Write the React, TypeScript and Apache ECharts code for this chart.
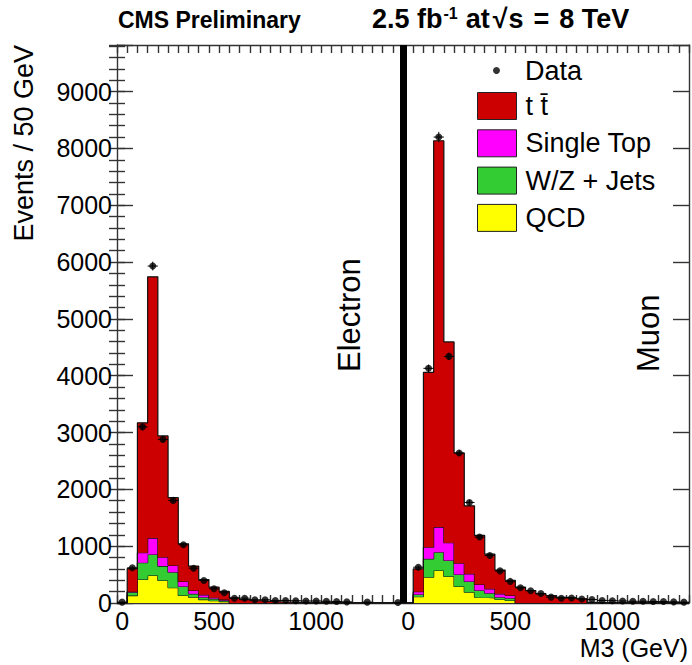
import React, { useEffect, useRef } from 'react';
import * as echarts from 'echarts';

const FONT = '"Liberation Sans", Arial, Helvetica, sans-serif';

// M3 distribution, 28 bins of 50 GeV per channel (0–1400 GeV); muon bins follow electron bins.
const electronQCD = [0, 130, 414, 485, 397, 268, 132, 103, 60, 40, 25, 0, 0, 0, 0, 0, 0, 0, 0, 0, 0, 0, 0, 0, 0, 0, 0, 0];
const electronWZJets = [0, 60, 294, 369, 252, 275, 158, 59, 43, 33, 20, 0, 0, 0, 0, 0, 0, 0, 0, 0, 0, 0, 0, 0, 0, 0, 0, 0];
const electronSingleTop = [0, 10, 176, 288, 158, 117, 89, 58, 41, 19, 15, 0, 0, 0, 0, 0, 0, 0, 0, 0, 0, 0, 0, 0, 0, 0, 0, 0];
const electronTTbar = [0, 405, 2286, 4598, 2133, 1193, 664, 429, 270, 187, 143, 90, 60, 40, 30, 20, 15, 10, 8, 6, 5, 4, 3, 2, 2, 1, 1, 1];
const electronData = [15, 620, 3100, 5930, 2880, 1806, 1025, 613, 396, 250, 180, 85, 85, 56, 56, 45, 45, 40, 35, 35, 30, 25, 20, null, 15, null, null, 10];

const muonQCD = [0, 110, 455, 573, 467, 291, 191, 103, 91, 62, 44, 0, 0, 0, 0, 0, 0, 0, 0, 0, 0, 0, 0, 0, 0, 0, 0, 0];
const muonWZJets = [0, 40, 323, 322, 282, 211, 188, 117, 82, 41, 41, 0, 0, 0, 0, 0, 0, 0, 0, 0, 0, 0, 0, 0, 0, 0, 0, 0];
const muonSingleTop = [0, 50, 205, 441, 311, 199, 135, 106, 77, 59, 47, 0, 0, 0, 0, 0, 0, 0, 0, 0, 0, 0, 0, 0, 0, 0, 0, 0];
const muonTTbar = [0, 400, 3077, 6799, 3535, 1939, 1196, 864, 610, 418, 268, 279, 220, 162, 130, 100, 90, 75, 10, 8, 6, 5, 4, 3, 2, 2, 1, 1];
const muonData = [null, 630, 4130, 8200, 4340, 2640, 1770, 1160, 837, 565, 380, 268, 215, 168, 103, 85, 88, 70, 60, 45, 40, 35, 30, 30, 25, 25, 20, 15];

// x tick labels (GeV) and the bin coordinate at which each one sits
const xTickLabels = ['0', '500', '1000', '0', '500', '1000'];
const xTickLabelBins = [0.5, 9.5, 19.5, 28.5, 38.5, 48.5];

const yMax = 9820;

const sampleNames = ['QCD', 'W/Z + Jets', 'Single Top', 't t\u0304'];
const sampleColors = ['#ffff00', '#33cc33', '#ff00ff', '#cc0000'];

const stackValues = [
  [...electronQCD, ...muonQCD],
  [...electronWZJets, ...muonWZJets],
  [...electronSingleTop, ...muonSingleTop],
  [...electronTTbar, ...muonTTbar],
];
const dataValues = [...electronData, ...muonData];
const nBins = dataValues.length;
const channelSplit = electronData.length;

// bin edges 0..nBins, used as the ordinal axis of the stacked histograms
const binEdges = Array.from({ length: nBins + 1 }, (_, k) => String(k));
// step outline: value at each bin's low edge, repeated at the last high edge
const toStep = (v: number[]) => [...v, v[v.length - 1]];

const dataPoints = dataValues
  .map((v, k) => (v == null ? null : [k + 0.5, v]))
  .filter((p) => p !== null) as number[][];

const frame = { color: '#333', width: 1.4 };

export default function App() {
  const ref = useRef<HTMLDivElement>(null);

  useEffect(() => {
    const chart = echarts.init(ref.current!, null, { renderer: 'svg' });

    const baseX = { type: 'value', min: 0, max: nBins, splitLine: { show: false } };
    const baseY = { type: 'value', min: 0, max: yMax, splitLine: { show: false } };
    const titleText = { fontFamily: FONT, fontSize: 27, fontWeight: 'bold', color: '#000' };

    const option: any = {
      animation: false,
      backgroundColor: '#fff',
      textStyle: { fontFamily: FONT },
      title: [
        {
          text: 'CMS Preliminary',
          left: 118,
          top: 8,
          padding: 0,
          textStyle: { fontFamily: FONT, fontSize: 23, fontWeight: 'bold', color: '#000' },
        },
        {
          text: '{t|2.5 fb}{sup|-1}{t|at}{rt|\u221A}{t|s}{eq|=}{t|8 TeV}',
          left: 372,
          top: 5,
          padding: 0,
          textStyle: {
            ...titleText,
            rich: {
              t: { ...titleText },
              sup: { ...titleText, fontSize: 16, verticalAlign: 'top', padding: [0, 8, 0, 1] },
              rt: { ...titleText, padding: [0, 1, 0, 3] },
              eq: { ...titleText, padding: [0, 10, 0, 10] },
            },
          },
        },
      ],
      grid: { left: 117, right: 1, top: 45, bottom: 62, containLabel: false },
      legend: [
        {
          data: [{ name: 'Data', icon: 'circle' }],
          left: 493,
          top: 57,
          padding: 0,
          itemWidth: 39,
          itemHeight: 7,
          selectedMode: false,
          itemStyle: { color: '#000' },
          textStyle: { fontFamily: FONT, fontSize: 27, color: '#000', padding: [0, 0, 0, 4] },
        },
        {
          data: [3, 2, 1, 0].map((i) => ({
            name: sampleNames[i],
            icon: 'rect',
            itemStyle: { color: sampleColors[i], borderColor: '#222', borderWidth: 1 },
          })),
          orient: 'vertical',
          left: 477,
          top: 92,
          padding: 0,
          itemWidth: 39,
          itemHeight: 27,
          itemGap: 9.3,
          selectedMode: false,
          textStyle: { fontFamily: FONT, fontSize: 27, color: '#000', padding: [0, 0, 0, 4] },
        },
      ],
      xAxis: [
        {
          ...baseX,
          interval: 1,
          position: 'bottom',
          axisLine: { show: true, onZero: false, lineStyle: frame },
          axisTick: { show: true, inside: true, length: 8, lineStyle: frame },
          axisLabel: { show: false },
        },
        {
          ...baseX,
          interval: 0.5,
          position: 'bottom',
          axisLine: { show: false },
          axisTick: { show: false },
          axisLabel: {
            show: true,
            margin: 5,
            fontFamily: FONT,
            fontSize: 25,
            color: '#000',
            formatter: (v: number) => {
              const i = xTickLabelBins.findIndex((b) => Math.abs(b - v) < 1e-6);
              return i >= 0 ? xTickLabels[i] : '';
            },
          },
        },
        {
          ...baseX,
          interval: 1,
          position: 'top',
          axisLine: { show: true, onZero: false, lineStyle: frame },
          axisTick: { show: true, inside: true, length: 8, lineStyle: frame },
          axisLabel: { show: false },
        },
        {
          type: 'category',
          data: binEdges,
          boundaryGap: false,
          position: 'bottom',
          show: false,
        },
      ],
      yAxis: [
        {
          ...baseY,
          interval: 1000,
          position: 'left',
          axisLine: { show: true, onZero: false, lineStyle: frame },
          axisTick: { show: true, inside: true, length: 16, lineStyle: frame },
          axisLabel: {
            show: true,
            margin: 5,
            fontFamily: FONT,
            fontSize: 25,
            color: '#000',
            formatter: (v: number) => (v % 1000 === 0 ? String(v) : ''),
          },
        },
        {
          ...baseY,
          interval: 200,
          position: 'left',
          axisLine: { show: false },
          axisTick: { show: true, inside: true, length: 8, lineStyle: frame },
          axisLabel: { show: false },
        },
        {
          ...baseY,
          interval: 1000,
          position: 'right',
          axisLine: { show: true, onZero: false, lineStyle: frame },
          axisTick: { show: true, inside: true, length: 16, lineStyle: frame },
          axisLabel: { show: false },
        },
        {
          ...baseY,
          interval: 200,
          position: 'right',
          axisLine: { show: false },
          axisTick: { show: true, inside: true, length: 8, lineStyle: frame },
          axisLabel: { show: false },
        },
      ],
      series: [
        ...stackValues.map((vals, i) => ({
          name: sampleNames[i],
          type: 'line',
          xAxisIndex: 3,
          yAxisIndex: 0,
          stack: 'mc',
          step: 'end',
          symbol: 'none',
          showSymbol: false,
          z: 2 + i * 0.1,
          data: toStep(vals),
          itemStyle: { color: sampleColors[i] },
          lineStyle: { color: '#111', width: 1.2 },
          areaStyle: { color: sampleColors[i], opacity: 1 },
        })),
        {
          name: 'Data uncertainty',
          type: 'custom',
          xAxisIndex: 0,
          yAxisIndex: 0,
          z: 4,
          data: dataPoints,
          renderItem: (_params: any, api: any) => {
            const x = api.value(0);
            const y = api.value(1);
            const e = Math.sqrt(y);
            const c = api.coord([x, y]);
            const top = api.coord([x, y + e]);
            const bot = api.coord([x, Math.max(0, y - e)]);
            const l = api.coord([x - 0.5, y]);
            const r = api.coord([x + 0.5, y]);
            const st = { stroke: '#000', lineWidth: 1 };
            return {
              type: 'group',
              children: [
                { type: 'line', shape: { x1: c[0], y1: top[1], x2: c[0], y2: bot[1] }, style: st },
                { type: 'line', shape: { x1: l[0], y1: c[1], x2: r[0], y2: c[1] }, style: st },
              ],
            };
          },
        },
        {
          name: 'Data',
          type: 'scatter',
          xAxisIndex: 0,
          yAxisIndex: 0,
          z: 5,
          symbol: 'circle',
          symbolSize: 7,
          itemStyle: { color: '#000' },
          data: dataPoints,
          markLine: {
            silent: true,
            symbol: 'none',
            animation: false,
            label: { show: false },
            lineStyle: { color: '#000', width: 7, type: 'solid' },
            data: [{ xAxis: channelSplit }],
          },
        },
      ],
      graphic: [
        {
          type: 'text',
          x: 24,
          y: 45,
          rotation: Math.PI / 2,
          style: { text: 'Events / 50 GeV', fontFamily: FONT, fontSize: 27, fill: '#000', align: 'right', verticalAlign: 'middle' },
        },
        {
          type: 'text',
          x: 688,
          y: 635,
          style: { text: 'M3 (GeV)', fontFamily: FONT, fontSize: 25, fill: '#000', align: 'right', verticalAlign: 'top' },
        },
        {
          type: 'text',
          x: 349,
          y: 372,
          rotation: Math.PI / 2,
          style: { text: 'Electron', fontFamily: FONT, fontSize: 31, fill: '#000', align: 'left', verticalAlign: 'middle' },
        },
        {
          type: 'text',
          x: 648,
          y: 372,
          rotation: Math.PI / 2,
          style: { text: 'Muon', fontFamily: FONT, fontSize: 31, fill: '#000', align: 'left', verticalAlign: 'middle' },
        },
      ],
    };

    chart.setOption(option);
    return () => chart.dispose();
  }, []);

  return (
    <div
      ref={ref}
      style={{ position: 'absolute', left: 0, top: 0, width: 692, height: 665, background: '#fff' }}
    />
  );
}
